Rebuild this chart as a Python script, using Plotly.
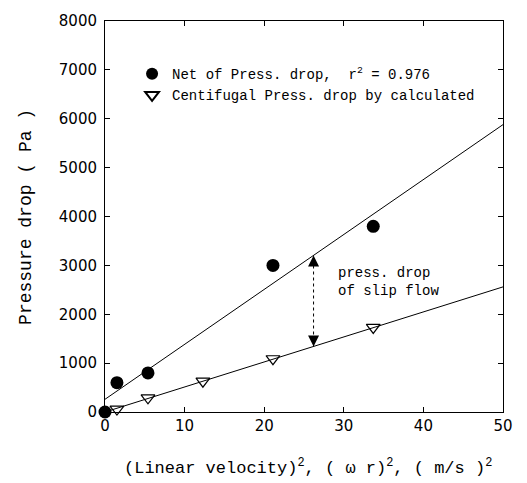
import plotly.graph_objects as go

# Data
net_x = [0.0, 1.5, 5.4, 21.1, 33.7]
net_y = [0, 600, 800, 3000, 3800]
cen_x = [1.5, 5.4, 12.3, 21.1, 33.7]
cen_y = [60, 290, 630, 1090, 1730]

line_x = [0, 50]
net_fit = [260, 5880]
cen_fit = [0, 2560]

arrow_x = [26.2, 26.2]
arrow_y = [1340, 3200]

x_ticks = [0, 10, 20, 30, 40, 50]
y_ticks = [0, 1000, 2000, 3000, 4000, 5000, 6000, 7000, 8000]

TXT = "Liberation Mono"
SANS = "DejaVu Sans"

fig = go.Figure()

fig.add_trace(go.Scatter(x=line_x, y=net_fit, mode="lines",
                         line=dict(color="black", width=1), showlegend=False, hoverinfo="skip"))
fig.add_trace(go.Scatter(x=line_x, y=cen_fit, mode="lines",
                         line=dict(color="black", width=1), showlegend=False, hoverinfo="skip"))

fig.add_trace(go.Scatter(x=net_x, y=net_y, mode="markers", cliponaxis=False,
                         name="Net of Press. drop,\u00a0\u00a0r<sup>2</sup> = 0.976",
                         marker=dict(symbol="circle", size=13, color="black")))
fig.add_trace(go.Scatter(x=cen_x, y=cen_y, mode="markers", cliponaxis=False,
                         name="Centifugal Press. drop by calculated",
                         marker=dict(symbol="triangle-down-open", size=12, color="black",
                                     line=dict(width=1.2, color="black"))))

# dotted double-headed arrow
fig.add_trace(go.Scatter(x=arrow_x, y=arrow_y, mode="lines",
                         line=dict(color="black", width=1, dash="dot"),
                         showlegend=False, hoverinfo="skip"))
fig.add_trace(go.Scatter(x=arrow_x, y=arrow_y, mode="markers", showlegend=False, hoverinfo="skip",
                         marker=dict(symbol=["arrow-down", "arrow-up"], size=11, color="black",
                                     line=dict(width=0))))

fig.add_annotation(x=29.0, y=2670, xref="x", yref="y", xanchor="left", yanchor="middle",
                   text="press. drop<br>of slip flow", showarrow=False, align="left",
                   font=dict(family=TXT, size=14, color="black"))

# axis titles
fig.add_annotation(x=0.51, y=-0.14, xref="paper", yref="paper", xanchor="center", yanchor="middle",
                   text="(Linear velocity)<sup>2</sup>, ( \u03c9 r)<sup>2</sup>, ( m/s )<sup>2</sup>",
                   showarrow=False, font=dict(family=TXT, size=17, color="black"))
fig.add_annotation(x=-0.2, y=0.5, xref="paper", yref="paper", xanchor="center", yanchor="middle",
                   text="Pressure drop ( Pa )", textangle=-90,
                   showarrow=False, font=dict(family=TXT, size=18, color="black"))

axis_common = dict(showline=True, mirror="ticks", linecolor="black", linewidth=1,
                   ticks="inside", ticklen=5, tickwidth=1, tickcolor="black",
                   showgrid=False, zeroline=False,
                   tickfont=dict(family=SANS, size=15, color="black"))

fig.update_xaxes(range=[0, 50], tickvals=x_ticks, **axis_common)
fig.update_yaxes(range=[0, 8000], tickvals=y_ticks, ticklabelstandoff=4, **axis_common)

fig.update_layout(
    width=527, height=483,
    margin=dict(l=105, r=24, t=15, b=71),
    plot_bgcolor="white", paper_bgcolor="white",
    legend=dict(x=0.068, y=0.905, xanchor="left", yanchor="top",
                bgcolor="rgba(0,0,0,0)", font=dict(family=TXT, size=14, color="black"),
                tracegroupgap=0, itemsizing="constant"),
)

fig.write_html("out.html")
